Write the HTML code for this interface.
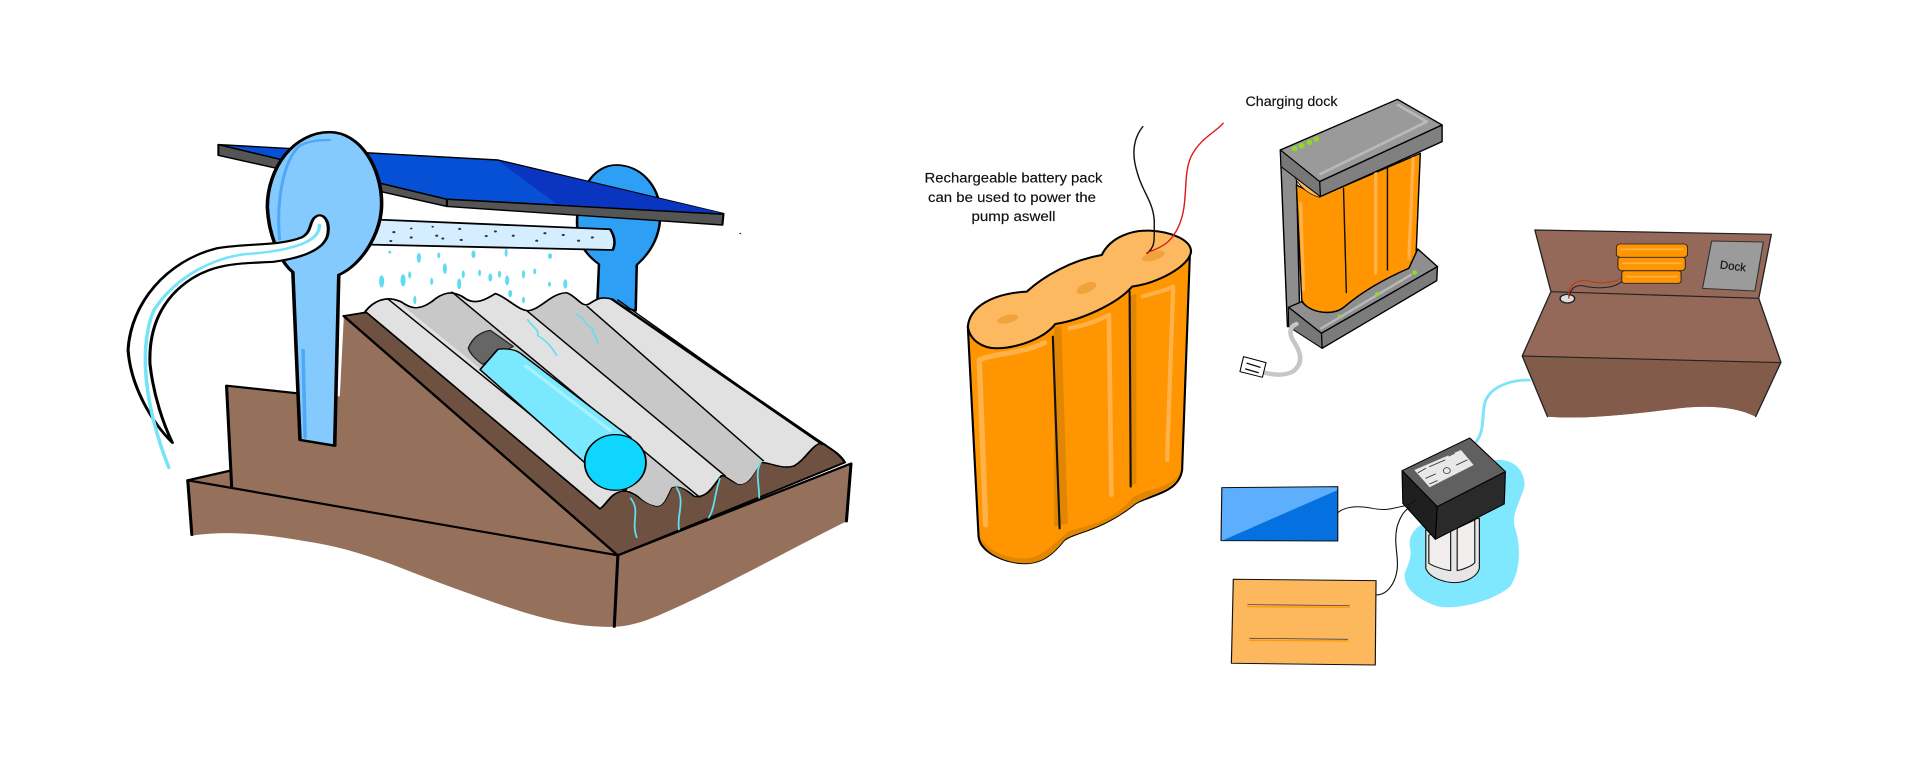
<!DOCTYPE html>
<html><head><meta charset="utf-8"><style>html,body{margin:0;padding:0;background:#fff;overflow:hidden}svg{display:block}text{font-family:"Liberation Sans",sans-serif;fill:#111;stroke:#111;stroke-width:.15}</style></head>
<body>
<svg width="1920" height="767" viewBox="0 0 1920 767" xmlns="http://www.w3.org/2000/svg">
<rect width="1920" height="767" fill="#fff"/>
<!-- LEFT -->
<g transform="translate(100,100) scale(.5102,.3571)" stroke-linejoin="round" stroke-linecap="round">
<path d="M1050,590 L1052,462 C1085,420 1100,370 1098,310 C1095,240 1060,182 1012,182 C965,182 935,260 935,340 C935,400 950,430 978,460 L975,560 Z" fill="#2da0f5" stroke="#000" stroke-width="5"/>
<path d="M248,800 L385,820 L470,830 L478,605 L1015,1275 L172,1065 L255,1038 Z" fill="#95715c"/>
<path d="M248,800 L385,821 M248,800 L258,1082 M172,1065 L255,1038 M478,605 L1015,1275" fill="none" stroke="#000" stroke-width="6"/>
<path d="M478,605 L520,595 L1000,600 L1415,960 C1430,975 1450,990 1460,1015 L1015,1275 Z" fill="#6f5142" stroke="#000" stroke-width="5"/>
<path d="M520,592 C535,565 560,545 590,565 C610,585 625,590 650,565 C670,540 690,530 715,555 C735,575 755,560 775,542 C800,555 820,590 840,590 C865,585 885,540 915,540 C935,550 945,585 960,570 C975,555 985,550 1005,558 L1415,960 C1395,965 1385,1005 1360,1025 C1335,1035 1315,1015 1295,1015 C1280,1040 1275,1080 1250,1075 C1235,1065 1225,1050 1218,1052 C1200,1085 1190,1115 1165,1110 C1150,1095 1140,1075 1120,1085 C1110,1110 1105,1145 1085,1135 C1060,1125 1050,1095 1025,1095 C1000,1100 995,1130 980,1145 Z" fill="#e2e1e2" stroke="#000" stroke-width="4"/>
<path d="M590,572 C610,585 625,590 650,565 C670,540 690,530 695,540 L1175,1112 C1150,1095 1140,1075 1120,1085 C1110,1110 1105,1145 1085,1135 C1060,1125 1050,1095 1040,1095 Z" fill="#c8c8c8"/>
<path d="M838,592 C865,585 885,540 915,540 C935,550 945,585 955,578 L1300,1010 C1280,1040 1275,1080 1250,1075 L1225,1052 Z" fill="#c8c8c8"/>
<path d="M565,558 L1020,1085 M690,538 L1175,1112 M838,592 L1225,1052 M955,578 L1300,1010 M1000,556 L1405,955 M1015,560 L1415,965" fill="none" stroke="#000" stroke-width="3.5"/>
<path d="M520,592 C535,565 560,545 590,565 C610,585 625,590 650,565 C670,540 690,530 715,555 C735,575 755,560 775,542 C800,555 820,590 840,590 C865,585 885,540 915,540 C935,550 945,585 960,570 C975,555 985,550 1005,558" fill="none" stroke="#000" stroke-width="4"/>
<g fill="none" stroke="#5fe0f0" stroke-width="3.5">
<path d="M838,615 C850,640 860,640 858,660 C870,670 880,680 895,715"/>
<path d="M932,598 C950,610 950,630 965,640 C965,655 975,665 975,680"/>
<path d="M1040,1115 C1060,1150 1040,1180 1052,1225"/>
<path d="M1130,1085 C1150,1130 1125,1170 1138,1220"/>
<path d="M1215,1060 C1205,1100 1205,1140 1195,1165 C1190,1180 1185,1195 1185,1210"/>
<path d="M1295,1015 C1280,1050 1300,1100 1288,1150"/>
</g>
<path d="M722,695 C730,665 745,650 765,645 L810,690 L750,740 C735,725 725,710 722,695Z" fill="#666" stroke="#222" stroke-width="3"/>
<path d="M745,755 L780,698 C800,695 815,700 825,710 L1040,945 L1060,1000 L1030,1095 L985,1060 Z" fill="#7ae9ff" stroke="#000" stroke-width="3.5"/>
<path d="M835,745 L1000,925" stroke="#a8f1ff" stroke-width="8" fill="none"/>
<ellipse cx="1010" cy="1015" rx="60" ry="78" fill="#0fd6ff" stroke="#000" stroke-width="3.5"/>
<path d="M545,335 L1000,362 C1010,385 1010,405 1005,420 L530,405 Z" fill="#d4edff" stroke="#000" stroke-width="5"/>
<g fill="#333">
<circle cx="576" cy="370" r="3"/><circle cx="610" cy="360" r="2.5"/><circle cx="652" cy="355" r="2.5"/><circle cx="705" cy="361" r="3"/><circle cx="775" cy="368" r="3"/><circle cx="810" cy="380" r="3"/><circle cx="872" cy="373" r="3"/><circle cx="908" cy="378" r="3"/><circle cx="965" cy="385" r="3"/><circle cx="938" cy="394" r="3"/><circle cx="660" cy="380" r="3"/><circle cx="672" cy="388" r="3"/><circle cx="708" cy="392" r="3"/><circle cx="757" cy="381" r="3"/><circle cx="570" cy="395" r="3"/><circle cx="610" cy="385" r="3"/><circle cx="856" cy="394" r="3"/><circle cx="1255" cy="374" r="2"/>
</g>
<g fill="#5fdcf2">
<ellipse cx="625" cy="442" rx="4" ry="14"/><ellipse cx="664" cy="435" rx="3" ry="8"/><ellipse cx="732" cy="432" rx="4" ry="11"/><ellipse cx="796" cy="428" rx="3" ry="11"/><ellipse cx="882" cy="437" rx="4" ry="8"/><ellipse cx="568" cy="426" rx="3" ry="4"/>
<ellipse cx="552" cy="508" rx="5" ry="17"/><ellipse cx="594" cy="505" rx="5" ry="17"/><ellipse cx="607" cy="490" rx="3" ry="10"/><ellipse cx="650" cy="508" rx="3" ry="10"/><ellipse cx="676" cy="472" rx="4" ry="15"/><ellipse cx="712" cy="488" rx="3" ry="11"/><ellipse cx="704" cy="515" rx="4" ry="15"/><ellipse cx="744" cy="484" rx="3" ry="9"/><ellipse cx="765" cy="497" rx="4" ry="11"/><ellipse cx="783" cy="488" rx="3" ry="10"/><ellipse cx="798" cy="505" rx="4" ry="14"/><ellipse cx="830" cy="488" rx="3" ry="12"/><ellipse cx="852" cy="480" rx="3" ry="8"/><ellipse cx="881" cy="516" rx="3" ry="7"/><ellipse cx="912" cy="515" rx="4" ry="13"/><ellipse cx="617" cy="560" rx="3" ry="12"/><ellipse cx="804" cy="542" rx="4" ry="10"/><ellipse cx="830" cy="560" rx="3" ry="9"/>
</g>
<path d="M232,125 L780,168 L1222,318 L680,278 Z" fill="#0550d4" stroke="#000" stroke-width="4"/>
<path d="M780,170 L1222,318 L900,296 Z" fill="#0a35c0"/>
<path d="M232,125 L680,278 L680,298 L232,155 Z" fill="#555" stroke="#000" stroke-width="4"/>
<path d="M680,278 L1222,320 L1220,350 L680,298 Z" fill="#555" stroke="#000" stroke-width="4"/>
<path d="M392,952 L378,482 C350,450 330,370 328,300 C328,190 380,90 450,90 C510,90 552,190 552,290 C552,370 515,460 468,490 L460,968 Z" fill="#85caff" stroke="#000" stroke-width="7"/>
<path d="M352,390 C345,280 360,170 390,130 C405,115 430,112 450,112" fill="none" stroke="#4fa8f5" stroke-width="6"/>
<path d="M398,700 L402,945" fill="none" stroke="#4fa8f5" stroke-width="7"/>
<path d="M420,330 C435,310 450,335 447,370 C445,410 410,440 340,453 C280,458 230,455 180,500 C120,555 95,640 98,740 C105,830 125,910 142,960 C100,900 60,800 55,700 C60,570 130,450 230,415 C290,400 350,410 395,385 C415,370 410,345 420,330Z" fill="#fff" stroke="#000" stroke-width="6"/>
<path d="M430,350 C432,395 380,420 300,430 C230,435 150,490 105,590 C80,680 80,830 135,1030" fill="none" stroke="#76e3f8" stroke-width="7"/>
<path d="M172,1065 L1015,1275 L1008,1475 C900,1480 800,1420 700,1370 C600,1320 520,1260 400,1235 C320,1215 250,1205 180,1220 Z" fill="#95715c"/>
<path d="M1015,1275 L1472,1018 L1463,1180 C1350,1260 1200,1380 1100,1440 C1060,1465 1030,1475 1008,1475 Z" fill="#95715c"/>
<path d="M180,1218 L172,1065 L1015,1275 L1472,1018 L1463,1180 M1015,1275 L1008,1475" fill="none" stroke="#000" stroke-width="6"/>
</g>
<!-- BATTERY + DOCK -->
<g transform="translate(900,70) scale(.3571,.3333)" stroke-linejoin="round" stroke-linecap="round">
<path d="M190,770 L220,1400 C225,1450 300,1480 350,1480 C400,1480 430,1450 460,1410 C490,1385 560,1385 660,1300 C700,1275 780,1270 790,1200 L812,545 L435,762 Z" fill="#ff9601" stroke="#000" stroke-width="6"/>
<path d="M225,1395 C240,1445 310,1470 360,1465 C400,1455 430,1425 470,1385 C510,1370 590,1360 650,1285 C680,1255 760,1260 785,1205 C770,1260 700,1275 660,1300 C560,1385 490,1385 460,1410 C430,1450 400,1480 350,1480 C300,1480 225,1450 225,1395Z" fill="#e08600"/>
<path d="M432,770 L432,1370 L470,1360 L452,770 Z M642,680 L642,1250 L662,1240 L662,670 Z" fill="#e08600"/>
<g fill="none" stroke="#ffb24a" stroke-linecap="round">
<path d="M240,1365 L222,870 C260,850 350,850 405,818" stroke-width="15"/>
<path d="M592,1275 L585,735 C540,760 500,770 475,775" stroke-width="13"/>
<path d="M748,1170 L765,650 C740,665 700,670 680,680" stroke-width="12"/>
</g>
<path d="M428,800 L447,1375 M643,665 L646,1250" fill="none" stroke="#111" stroke-width="6"/>
<path d="M190,770 C195,710 260,670 355,665 C400,620 480,570 565,555 C590,500 650,480 700,482 C760,485 815,510 815,545 C810,590 720,640 650,650 C610,700 510,750 435,762 C400,810 320,835 270,835 C230,835 195,810 190,770Z" fill="#fcb95f" stroke="#000" stroke-width="6"/>
<g fill="#f0a33b"><ellipse cx="302" cy="747" rx="30" ry="12" transform="rotate(-15 302 747)"/><ellipse cx="522" cy="654" rx="30" ry="14" transform="rotate(-25 522 654)"/><ellipse cx="710" cy="558" rx="33" ry="13" transform="rotate(-18 710 558)"/></g>
<path d="M680,170 C650,210 650,260 665,310 C680,370 715,400 712,470 C712,510 715,530 692,550" fill="none" stroke="#111" stroke-width="4"/>
<path d="M905,160 C880,190 840,205 815,260 C790,320 810,400 780,470 C760,515 740,530 692,548" fill="none" stroke="#dd1b1b" stroke-width="4"/>
<path d="M1065,240 L1085,770 L1120,760 L1110,300 Z" fill="#8e8e8e" stroke="#000" stroke-width="4"/>
<path d="M1110,345 L1125,690 C1140,730 1215,740 1245,710 C1300,660 1360,625 1425,595 L1445,560 L1457,250 L1175,380 Z" fill="#ff9601" stroke="#000" stroke-width="4"/>
<path d="M1105,320 C1120,355 1150,375 1175,382 L1175,350Z" fill="#fcb95f" stroke="#000" stroke-width="2"/>
<path d="M1242,355 L1250,668 M1365,295 L1365,600" fill="none" stroke="#111" stroke-width="4"/>
<path d="M1332,310 L1332,610 M1437,265 L1425,565 M1122,400 L1130,660" fill="none" stroke="#ffb24a" stroke-width="9"/>
<path d="M1065,240 L1393,88 L1518,165 L1175,335 Z" fill="#9a9a9a" stroke="#000" stroke-width="4"/>
<path d="M1175,335 L1518,165 L1518,215 L1177,380 Z" fill="#808080" stroke="#000" stroke-width="4"/>
<path d="M1065,240 L1175,335 L1177,380 L1067,290 Z" fill="#777" stroke="#000" stroke-width="3"/>
<path d="M1395,105 L1475,155 L1178,312" fill="none" stroke="#b9b9b9" stroke-width="8"/>
<g fill="#8fdc1f"><circle cx="1105" cy="236" r="8"/><circle cx="1125" cy="227" r="8"/><circle cx="1146" cy="217" r="8"/><circle cx="1166" cy="207" r="8"/></g>
<path d="M1088,712 L1125,695 C1150,730 1215,740 1245,710 C1300,660 1360,625 1425,595 L1450,537 L1505,590 L1180,790 Z" fill="#8f8f8f" stroke="#000" stroke-width="4"/>
<path d="M1180,790 L1505,590 L1503,632 L1182,835 Z" fill="#7b7b7b" stroke="#000" stroke-width="4"/>
<path d="M1088,712 L1180,790 L1182,835 L1088,770 Z" fill="#777" stroke="#000" stroke-width="3"/>
<path d="M1180,775 L1430,615" fill="none" stroke="#b9b9b9" stroke-width="7"/>
<g fill="#8fdc1f"><circle cx="1230" cy="738" r="4"/><circle cx="1336" cy="672" r="6"/><circle cx="1441" cy="608" r="7"/></g>
<path d="M1110,762 C1090,770 1090,790 1100,810 C1125,850 1130,880 1100,905 C1075,918 1045,915 1020,908" fill="none" stroke="#c6c6c6" stroke-width="13"/>
<path d="M962,860 L1025,878 L1015,922 L952,905 Z" fill="#fff" stroke="#000" stroke-width="3"/>
<path d="M972,880 L1008,892 M968,897 L1003,908" stroke="#111" stroke-width="4" fill="none"/>
</g>
<!-- TANK + PUMP -->
<g transform="translate(1200,210) scale(.3827,.3333)" stroke-linejoin="round" stroke-linecap="round">
<path d="M875,60 L1493,73 L1460,265 L1518,455 L1452,620 C1400,590 1330,585 1250,595 C1150,610 1000,630 908,620 L842,438 L917,245 Z" fill="#95695a"/>
<path d="M842,438 L1518,458 L1452,620 C1400,590 1330,585 1250,595 C1150,610 1000,630 908,620 Z" fill="#825b4b"/>
<path d="M917,245 L875,60 L1493,73 L1460,265 L1518,457 L1452,620 M917,245 L842,438 L908,620 M917,245 L1460,265 M842,438 L1518,458" fill="none" stroke="#222" stroke-width="3.5"/>
<path d="M1337,93 L1472,96 L1450,243 L1313,235 Z" fill="#9b9b9b" stroke="#333" stroke-width="3"/>
<g fill="#ff9601" stroke="#222" stroke-width="2.5">
<rect x="1102" y="182" width="155" height="38" rx="8"/>
<rect x="1092" y="140" width="176" height="42" rx="10"/>
<rect x="1088" y="102" width="186" height="40" rx="10"/>
</g>
<path d="M1100,118 L1262,118 M1105,160 L1258,160 M1115,200 L1245,200" stroke="#ffb24a" stroke-width="5" fill="none"/>
<ellipse cx="960" cy="266" rx="19" ry="13" fill="#ddd" stroke="#222" stroke-width="4"/>
<path d="M965,258 C970,230 985,222 1010,230 C1050,238 1085,232 1102,215" fill="none" stroke="#222" stroke-width="3"/>
<path d="M964,265 C960,230 980,208 1010,212 C1040,222 1080,220 1100,205" fill="none" stroke="#c03818" stroke-width="3"/>
<path d="M860,510 C810,510 760,530 745,575 C735,620 745,660 722,695" fill="none" stroke="#7fe4fb" stroke-width="8"/>
<path d="M770,750 C820,745 850,780 848,830 C835,880 810,920 825,960 C840,1020 835,1090 810,1130 C770,1170 680,1200 625,1190 C580,1175 530,1140 535,1090 C545,1060 555,1040 548,1010 C545,970 565,950 600,930 Z" fill="#7fe8ff"/>
<path d="M590,960 L590,1075 C600,1105 640,1118 665,1118 C695,1118 725,1100 730,1075 L730,925 Z" fill="#e6e6e6" stroke="#111" stroke-width="3"/>
<path d="M598,975 L598,1060 C610,1070 640,1080 655,1082 L655,960 Z M672,955 L672,1082 C690,1078 710,1068 718,1058 L718,930 Z" fill="#f2eeee" stroke="#111" stroke-width="3"/>
<path d="M528,782 L705,684 L798,785 L620,890 Z" fill="#606060" stroke="#000" stroke-width="3"/>
<path d="M528,782 L620,890 L615,988 L530,880 Z" fill="#1f1f1f" stroke="#000" stroke-width="3"/>
<path d="M620,890 L798,785 L795,882 L615,988 Z" fill="#2a2a2a" stroke="#000" stroke-width="3"/>
<path d="M560,780 L682,720 L715,765 L600,832 Z" fill="#e8e8e8"/>
<circle cx="645" cy="782" r="9" fill="none" stroke="#333" stroke-width="2"/>
<path d="M570,788 L590,775 M600,770 L640,750 M650,738 L665,730 M590,805 L615,792 M600,822 L620,812 M670,765 L698,750" stroke="#333" stroke-width="2.5" fill="none"/>
<path d="M57,833 L360,830 L360,993 L55,992 Z" fill="#0570e0"/>
<path d="M57,833 L360,830 L360,840 L58,992 L55,992 Z" fill="#5eaefe"/>
<path d="M57,833 L360,830 L360,993 L55,992 Z" fill="none" stroke="#111" stroke-width="3"/>
<path d="M360,908 C385,885 420,888 450,895 C490,905 510,892 545,885 L565,872" fill="none" stroke="#111" stroke-width="3"/>
<path d="M87,1108 L460,1112 L458,1365 L82,1360 Z" fill="#fdb75c" stroke="#111" stroke-width="3"/>
<path d="M125,1190 L390,1192 M130,1291 L386,1293" stroke="#ff9a10" stroke-width="4" fill="none"/>
<path d="M125,1184 L390,1187 M130,1285 L386,1288" stroke="#444" stroke-width="2.5" fill="none"/>
<path d="M460,1155 C490,1155 510,1120 515,1080 C520,1040 505,1000 515,950 C522,925 530,905 548,892" fill="none" stroke="#111" stroke-width="3"/>
</g>
<text x="1733" y="270" font-size="11.5" text-anchor="middle" transform="rotate(7 1733 266)">Dock</text>
<text x="1245.5" y="106" font-size="13.5" textLength="92" lengthAdjust="spacingAndGlyphs">Charging dock</text>
<text x="1013.5" y="182.5" font-size="13.5" text-anchor="middle" textLength="178" lengthAdjust="spacingAndGlyphs">Rechargeable battery pack</text>
<text x="1012" y="202" font-size="13.5" text-anchor="middle" textLength="168" lengthAdjust="spacingAndGlyphs">can be used to power the</text>
<text x="1013.5" y="221" font-size="13.5" text-anchor="middle" textLength="84" lengthAdjust="spacingAndGlyphs">pump aswell</text>
</svg>
</body></html>
